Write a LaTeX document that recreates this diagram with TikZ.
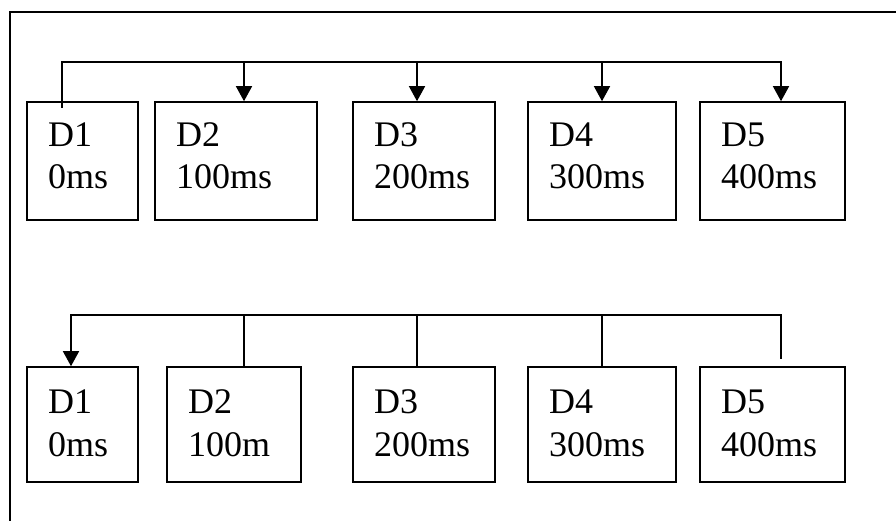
\documentclass[tikz,border=0pt]{standalone}
\usepackage{fontspec}
\setmainfont{Liberation Serif}
\usetikzlibrary{arrows.meta,calc}
\begin{document}
\begin{tikzpicture}[x=1pt,y=-1pt,
  ln/.style={line width=1.5pt, line cap=rect},
  box/.style={draw, line width=1.6pt, rectangle, inner sep=0pt},
  lbl/.style={anchor=base west, inner sep=0pt, font=\fontsize{36}{41}\selectfont},
  arr/.style={ln, -{Triangle[width=16pt,length=15pt]}}]
\useasboundingbox (0,0) rectangle (896,521);
% frame
\draw[ln] (10,521) -- (10,12) -- (896,12);
% top row boxes
\foreach \n/\xa/\xb/\t in {1/27/138/0ms,2/155/317/100ms,3/353/495/200ms,4/528/676/300ms,5/700/845/400ms}{
  \node[box, minimum width={\xb-\xa}, minimum height=118] (t\n) at ({(\xa+\xb)/2},161) {};
  \node[lbl] (ta\n) at ({\xa+21},147) {D\n};
  \node[lbl] (tb\n) at ({\xa+21},189) {\t};
}
% bottom row boxes
\foreach \n/\xa/\xb/\t in {1/27/138/0ms,2/167/301/100m,3/353/495/200ms,4/528/676/300ms,5/700/845/400ms}{
  \node[box, minimum width={\xb-\xa}, minimum height=115] (b\n) at ({(\xa+\xb)/2},424.5) {};
  \node[lbl] (ba\n) at ({\xa+21},413) {D\n};
  \node[lbl] (bb\n) at ({\xa+21},456) {\t};
}
% top connectors
\coordinate (ts) at (62,107);
\coordinate (tj1) at (62,62);
\coordinate (tj2) at (244,62);
\coordinate (tj3) at (417,62);
\coordinate (tj4) at (602,62);
\coordinate (tj5) at (781,62);
\draw[ln] (ts) -- (tj1) -- (tj5);
\draw[arr] (tj2) -- (tj2 |- t2.north);
\draw[arr] (tj3) -- (tj3 |- t3.north);
\draw[arr] (tj4) -- (tj4 |- t4.north);
\draw[arr] (tj5) -- (tj5 |- t5.north);
% bottom connectors
\coordinate (bj1) at (71,315);
\coordinate (bj2) at (244,315);
\coordinate (bj3) at (417,315);
\coordinate (bj4) at (602,315);
\coordinate (bj5) at (781,315);
\coordinate (be5) at (781,358);
\draw[ln] (bj1) -- (bj5) -- (be5);
\draw[arr] (bj1) -- (bj1 |- b1.north);
\draw[ln] (bj2) -- (bj2 |- b2.north);
\draw[ln] (bj3) -- (bj3 |- b3.north);
\draw[ln] (bj4) -- (bj4 |- b4.north);
\end{tikzpicture}
\end{document}
